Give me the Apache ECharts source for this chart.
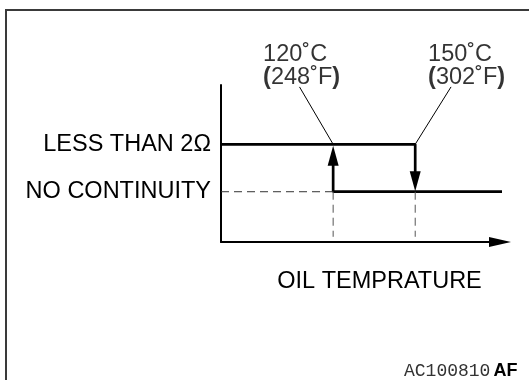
<!DOCTYPE html>
<html>
<head>
<meta charset="utf-8">
<script src="https://cdn.jsdelivr.net/npm/echarts@6/dist/echarts.min.js"></script>
<style>
  html, body { margin: 0; padding: 0; background: #fff; }
  #chart { width: 529px; height: 380px; }
</style>
</head>
<body>
<div id="chart"></div>
<script>
// Oil temperature switch: continuity state vs. oil temperature (hysteresis)
const tempRange = [79, 181];            // visible span of the temperature axis (°C)
const stateRange = [-0.06, 3.25];       // vertical span of the state axis
const stateLevels = [1, 2];             // 1 = no continuity, 2 = less than 2 Ω
const stateLabels = ['NO CONTINUITY', 'LESS THAN 2Ω'];
const switchTempsC = [120, 150];        // switching points
const switchTempsF = [248, 302];

// Upper branch: closed until 150 °C, then drops (arrow head at the end)
const upperBranch = [[79, 2], [150, 2], [150, 1.22]];
// Lower branch: open above 120 °C, closes again on cooling (arrow head at the end)
const lowerBranch = [[182.5, 1], [120, 1], [120, 1.76]];
// Guide lines
const levelGuide = [[79, 1], [120, 1]];
const dropGuides = [[[120, 1], [120, 0.05]], [[150, 1], [150, 0.05]]];
// Call-out leaders and text anchors for the switching temperatures
const leaderTops = [[107.7, 3.21], [163.1, 3.21]];
const calloutAnchors = [[94.4, 3.64], [154.7, 3.64]];

const FONT = '"Liberation Sans", Arial, Helvetica, sans-serif';
const FS = 23.5;

function arrowPath(points, rotate) {
  return points.map((p, i) => {
    const last = i === points.length - 1;
    return {
      value: p,
      symbol: last ? 'triangle' : 'none',
      symbolSize: last ? [11, 20] : 0,
      symbolRotate: last ? rotate : 0
    };
  });
}

const series = [
  {
    type: 'line', data: arrowPath(upperBranch, 180), showSymbol: true, clip: false,
    lineStyle: { color: '#000', width: 2.7 }, itemStyle: { color: '#000', borderWidth: 0 },
    silent: true, animation: false
  },
  {
    type: 'line', data: arrowPath(lowerBranch, 0), showSymbol: true, clip: false,
    lineStyle: { color: '#000', width: 2.7 }, itemStyle: { color: '#000', borderWidth: 0 },
    silent: true, animation: false
  },
  {
    type: 'line', data: levelGuide, symbol: 'none', clip: false,
    lineStyle: { color: '#333', width: 1, type: [8, 5] }, animation: false
  }
];

dropGuides.forEach(seg => series.push({
  type: 'line', data: seg, symbol: 'none', clip: false,
  lineStyle: { color: '#555', width: 1, type: [8, 5] }, animation: false
}));

switchTempsC.forEach((t, i) => {
  series.push({
    type: 'line', data: [leaderTops[i], [t, stateLevels[1]]], symbol: 'none', clip: false,
    lineStyle: { color: '#000', width: 1 }, animation: false
  });
  series.push({
    type: 'scatter', data: [calloutAnchors[i]], symbolSize: 0, clip: false, animation: false,
    label: {
      show: true, position: 'inside', align: 'left', verticalAlign: 'middle',
      formatter: t + '˚C\n{b|(}' + switchTempsF[i] + '˚F{b|)}',
      color: '#000', fontFamily: FONT, fontSize: FS, lineHeight: 23,
      rich: { b: { fontWeight: 'bold', fontFamily: FONT, fontSize: FS, lineHeight: 23, color: '#000' } }
    }
  });
});

const chart = echarts.init(document.getElementById('chart'), null, { renderer: 'canvas' });
chart.setOption({
  backgroundColor: '#fff',
  animation: false,
  grid: { left: 221, top: 85, width: 279, height: 157, outerBoundsMode: 'none' },
  xAxis: {
    type: 'value', min: tempRange[0], max: tempRange[1],
    name: 'OIL TEMPRATURE', nameLocation: 'middle', nameGap: 28,
    nameTextStyle: { color: '#000', fontFamily: FONT, fontSize: FS, padding: [0, 0, 0, 38] },
    axisLine: {
      onZero: false, symbol: ['none', 'triangle'], symbolSize: [10, 22],
      lineStyle: { color: '#000', width: 2 }
    },
    axisTick: { show: false }, axisLabel: { show: false }, splitLine: { show: false }
  },
  yAxis: {
    type: 'value', min: stateRange[0], max: stateRange[1],
    axisLine: { show: true, onZero: false, lineStyle: { color: '#000', width: 2 } },
    axisTick: { show: false }, splitLine: { show: false },
    axisLabel: {
      customValues: stateLevels,
      formatter: v => stateLabels[stateLevels.indexOf(v)] || '',
      color: '#000', fontFamily: FONT, fontSize: FS, margin: 10
    }
  },
  graphic: [
    {
      type: 'rect', shape: { x: 6, y: 10, width: 600, height: 500 },
      style: { fill: 'none', stroke: '#3a3a3a', lineWidth: 2 }, silent: true
    },
    {
      type: 'text', left: 404, top: 362,
      style: {
        text: '{m|AC100810}{b|AF}',
        rich: {
          m: { fontFamily: '"Liberation Mono", "Courier New", monospace', fontSize: 18, fill: '#333' },
          b: { fontFamily: FONT, fontSize: 18, fontWeight: 'bold', fill: '#000', padding: [0, 0, 0, 3] }
        }
      }
    }
  ],
  series: series
});
</script>
</body>
</html>
